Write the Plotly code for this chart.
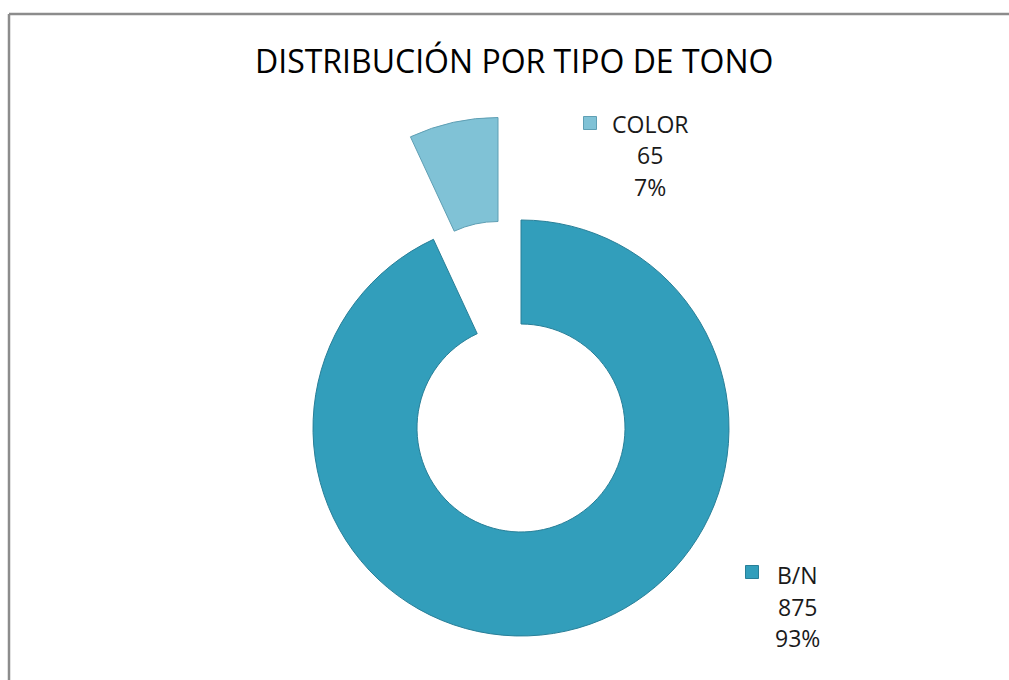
import plotly.graph_objects as go

# ---- data ----
categories = ["B/N", "COLOR"]
values = [875, 65]
title_text = "DISTRIBUCIÓN POR TIPO DE TONO"

W, H = 1009, 680
colors = ["#329ebb", "#80c2d6"]
line_colors = ["#287f98", "#5f9fb4"]

def px(x):
    return x / W

def py(y):
    return 1 - y / H

total = sum(values)
pcts = [round(v / total * 100) for v in values]

fig = go.Figure()

# main ring (B/N visible)
R = 208
cx, cy = 521, 428
fig.add_trace(go.Pie(
    labels=categories, values=values, hole=0.5, sort=False,
    direction="clockwise", rotation=0, textinfo="none", showlegend=False,
    marker=dict(colors=[colors[0], "rgba(0,0,0,0)"],
                line=dict(color=[line_colors[0], "rgba(0,0,0,0)"], width=[1, 0])),
    domain=dict(x=[px(cx - R), px(cx + R)], y=[py(cy + R), py(cy - R)]),
))

# exploded slice (COLOR visible), same geometry translated along its bisector
cx2, cy2 = 498, 325.5
fig.add_trace(go.Pie(
    labels=categories, values=values, hole=0.5, sort=False,
    direction="clockwise", rotation=0, textinfo="none", showlegend=False,
    marker=dict(colors=["rgba(0,0,0,0)", colors[1]],
                line=dict(color=["rgba(0,0,0,0)", line_colors[1]], width=[0, 1])),
    domain=dict(x=[px(cx2 - R), px(cx2 + R)], y=[py(cy2 + R), py(cy2 - R)]),
))

font_family = "Open Sans, sans-serif"
annotations = [dict(
    text=title_text, x=px(514), y=py(60), xref="paper", yref="paper",
    xanchor="center", yanchor="middle", showarrow=False,
    font=dict(family=font_family, size=32, color="#000000"),
)]
frame = dict(color="#8c8c8c", width=2.5)
shapes = [
    dict(type="rect", xref="paper", yref="paper", x0=px(995), x1=1, y0=0, y1=py(16),
         fillcolor="white", line=dict(width=0), layer="above"),
    dict(type="line", xref="paper", yref="paper", x0=px(9), x1=1, y0=py(14), y1=py(14), line=frame),
    dict(type="line", xref="paper", yref="paper", x0=px(9), x1=px(9), y0=py(14), y1=0, line=frame),
]

# label positions: (square center x, y, text center x, first line y)
label_pos = {"COLOR": (590, 123, 650, 124), "B/N": (752, 572, 797, 575)}
for i, cat in enumerate(categories):
    sx, sy, tx, ty = label_pos[cat]
    lines = [cat, str(values[i]), f"{pcts[i]}%"]
    for j, ln in enumerate(lines):
        annotations.append(dict(
            text=ln, x=px(tx), y=py(ty + j * 31.5), xref="paper", yref="paper",
            xanchor="center", yanchor="middle", showarrow=False,
            font=dict(family=font_family, size=23, color="#1a1a1a"),
        ))
    shapes.append(dict(type="rect", xref="paper", yref="paper",
                       x0=px(sx - 6.5), x1=px(sx + 6.5), y0=py(sy + 6.5), y1=py(sy - 6.5),
                       fillcolor=colors[i], line=dict(color=line_colors[i], width=1)))

fig.update_layout(
    width=W, height=H, margin=dict(l=0, r=0, t=0, b=0),
    paper_bgcolor="white", plot_bgcolor="white",
    annotations=annotations, shapes=shapes,
)

fig.write_html(
    "out.html", config={"displayModeBar": False},
    post_script=("document.body.style.margin='0';document.body.style.overflow='hidden';"
                 "document.documentElement.style.overflow='hidden';"
                 "document.body.style.background='white';"),
)
